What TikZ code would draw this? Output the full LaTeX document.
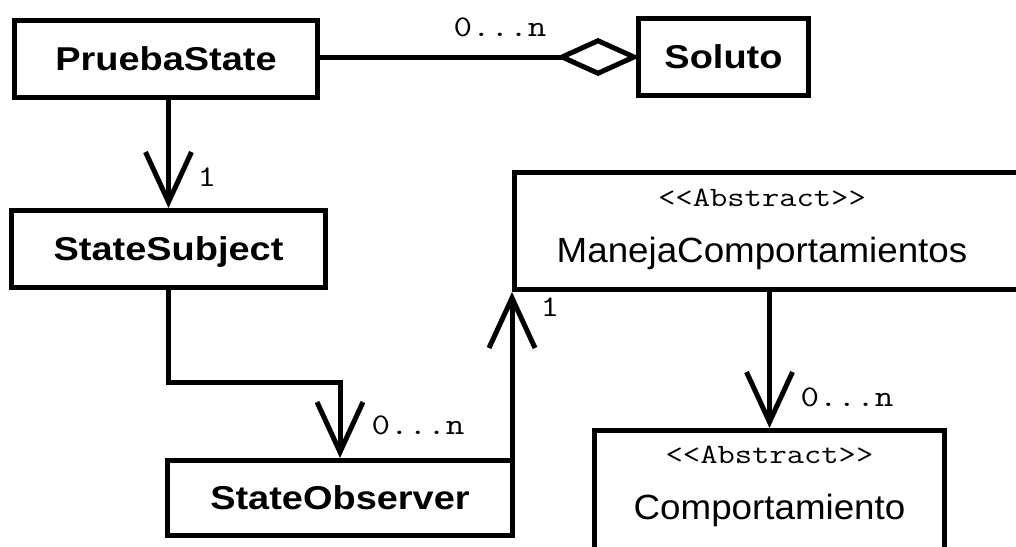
\documentclass[tikz,border=0pt]{standalone}
\usepackage{fontspec}
\setmainfont{Liberation Sans}
\setmonofont{Latin Modern Mono}
\usetikzlibrary{arrows.meta}
\newcommand\xsc[2]{\scalebox{#1}[1]{#2}}
\begin{document}
\begin{tikzpicture}[x=1pt,y=-1pt,
  cls/.style={draw, line width=5pt, rectangle, inner sep=0pt,
    font=\fontsize{33}{33}\selectfont\bfseries, text height=23.6pt, text depth=0pt},
  absbox/.style={draw, line width=5pt, rectangle, inner sep=0pt},
  stereo/.style={inner sep=0pt, font=\fontsize{28}{28}\selectfont\ttfamily},
  cname/.style={inner sep=0pt, font=\fontsize{35}{35}\selectfont, text height=25pt, text depth=0pt},
  mult/.style={inner sep=0pt, font=\fontsize{30}{30}\selectfont\ttfamily},
  conn/.style={line width=5pt},
  nav/.style={conn, -{Straight Barb[length=50pt,width=46pt,sharp]}},
  agg/.style={conn, {Diamond[open,length=84pt,width=38pt]}-},
]
\useasboundingbox (0,0) rectangle (1016,546);
\fill[white] (0,0) rectangle (1016,546);
\clip (0,0) rectangle (1016,546);

% class boxes
\node[cls, minimum width=303pt, minimum height=77pt] (prueba) at (166,58.5) {\xsc{1.15}{PruebaState}};
\node[cls, minimum width=170pt, minimum height=77pt] (soluto) at (723.5,57) {\xsc{1.15}{Soluto}};
\node[cls, minimum width=314pt, minimum height=77pt] (subj) at (168.5,249) {\xsc{1.15}{StateSubject}};
\node[cls, minimum width=345pt, minimum height=75pt] (obs) at (340,498) {\xsc{1.15}{StateObserver}};

\node[absbox, minimum width=520pt, minimum height=117pt] (maneja) at (774.5,231) {};
\node[stereo] (manejaS) at (762,197.5) {\xsc{1.2}{<<Abstract>>}};
\node[cname] (manejaN) at (762,249.5) {\xsc{1.05}{ManejaComportamientos}};

\node[absbox, minimum width=350pt, minimum height=189.5pt] (comp) at (769.5,525.25) {};
\node[stereo] (compS) at (769.5,455) {\xsc{1.2}{<<Abstract>>}};
\node[cname] (compN) at (769.5,507) {\xsc{1.05}{Comportamiento}};

% connectors
\draw[agg] ([xshift=4pt]soluto.west) -- (soluto.west -| prueba.east);
\draw[nav] (prueba.south -| subj.north) -- (subj.north);
\coordinate (b1) at (obs.north |- 0,382);
\draw[nav] (subj.south) |- (b1) -- (obs.north);
\draw[nav] (maneja.south west |- obs.north east) -- (maneja.south west);
\draw[nav] (comp.north |- maneja.south) -- (comp.north);

% multiplicities
\node[mult] (m1) at (500,27) {\xsc{1.2}{0...n}};
\node[mult] (m2) at (207,177) {\xsc{1.2}{1}};
\node[mult] (m3) at (418,425) {\xsc{1.2}{0...n}};
\node[mult] (m4) at (550,307) {\xsc{1.2}{1}};
\node[mult] (m5) at (847,397) {\xsc{1.2}{0...n}};
\end{tikzpicture}
\end{document}
